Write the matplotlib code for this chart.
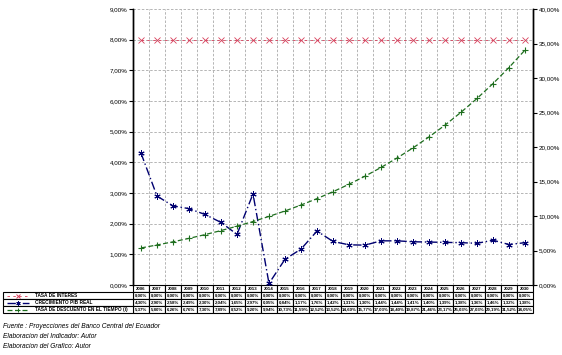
import matplotlib
matplotlib.use("Agg")
import matplotlib.pyplot as plt
from matplotlib.ticker import FuncFormatter, MultipleLocator

plt.rcParams["font.family"] = ["Liberation Sans", "DejaVu Sans"]

anios = [str(a) for a in range(2006, 2031)]
tasa_interes = [8.00] * 25
crecimiento_pib = [4.30, 2.90, 2.58, 2.49, 2.30, 2.04, 1.65, 2.97, 0.05, 0.84,
                   1.17, 1.76, 1.42, 1.31, 1.30, 1.44, 1.44, 1.41, 1.40, 1.39,
                   1.38, 1.36, 1.46, 1.32, 1.38]
tasa_descuento = [5.37, 5.80, 6.26, 6.76, 7.30, 7.89, 8.52, 9.20, 9.94, 10.73,
                  11.59, 12.52, 13.52, 14.60, 15.77, 17.03, 18.40, 19.87, 21.46, 23.17,
                  25.03, 27.03, 29.19, 31.52, 34.05]
nombres = ["TASA DE INTERES", "CRECIMIENTO PIB REAL", "TASA DE DESCUENTO EN EL TIEMPO (i)"]
notas = ["Fuente : Proyecciones del Banco Central del Ecuador",
         "Elaboracion del Indicador: Autor",
         "Elaboracion del Grafico: Autor"]

rojo = "#d8405c"
azul = "#000070"
verde = "#1e6e1e"

def pct(v, pos=None):
    return ("%.2f%%" % v).replace(".", ",")

fig = plt.figure(figsize=(5.62, 3.55), dpi=100)
ax = fig.add_axes([133 / 562, 1 - 285 / 355, 400 / 562, 276 / 355])
ax2 = ax.twinx()

x = range(len(anios))
estilos = [
    dict(color=rojo, ls=(0, (3, 4)), lw=0.6, marker="x", ms=4, mew=0.6),
    dict(color=azul, ls=(0, (6, 2, 1, 2)), lw=1.0, marker=(6, 2, 0), ms=4.5, mew=0.7),
    dict(color=verde, ls=(0, (4, 2)), lw=0.9, marker="+", ms=5, mew=0.8),
]
ax.plot(x, tasa_interes, **estilos[0])
ax.plot(x, crecimiento_pib, **estilos[1])
ax2.plot(x, tasa_descuento, **estilos[2])

ax.set_xlim(-0.5, len(anios) - 0.5)
ax.set_ylim(0, 9)
ax2.set_ylim(0, 40)
ax.yaxis.set_major_locator(MultipleLocator(1))
ax2.yaxis.set_major_locator(MultipleLocator(5))
ax.yaxis.set_major_formatter(FuncFormatter(pct))
ax2.yaxis.set_major_formatter(FuncFormatter(pct))
for a in (ax, ax2):
    a.tick_params(axis="y", labelsize=4.5, length=3, width=0.8, pad=1)
    a.spines["top"].set_visible(False)
    a.spines["left"].set_linewidth(1)
    a.spines["right"].set_linewidth(1)
    a.spines["bottom"].set_visible(False)

ax.set_xticks([])
ax.set_xticks([i + 0.5 for i in range(len(anios) - 1)], minor=True)
ax.tick_params(axis="x", which="minor", length=0)
ax.grid(True, axis="y", ls=(0, (3, 2)), color="#aaaaaa", lw=0.6)
ax.grid(True, axis="x", which="minor", ls=(0, (3, 2)), color="#aaaaaa", lw=0.6)
ax.set_axisbelow(True)

# tabla de datos (anios + valores)
celdas = [[pct(v) for v in serie] for serie in (tasa_interes, crecimiento_pib, tasa_descuento)]
h_tabla = 28 / 276
h_fila = h_tabla / 4
tabla = ax.table(cellText=celdas, colLabels=anios, cellLoc="center",
                 bbox=[0, -h_tabla, 1, h_tabla])
tabla.auto_set_font_size(False)
tabla.set_fontsize(3.2)
for celda in tabla.get_celld().values():
    celda.set_linewidth(0.8)
    celda.get_text().set_fontweight("bold")
    celda.PAD = 0.02

# columna de leyenda
etq = ax.table(cellText=[[""], [""], [""]], bbox=[-130 / 400, -h_tabla, 130 / 400, 3 * h_fila])
for celda in etq.get_celld().values():
    celda.set_linewidth(0.8)

for i, (nombre, est) in enumerate(zip(nombres, estilos)):
    yy = -h_tabla + h_fila * (2.5 - i)
    linea = {k: v for k, v in est.items() if k != "marker"}
    ax.plot([-126 / 400, -104 / 400], [yy, yy], transform=ax.transAxes, clip_on=False, **linea)
    ax.plot([-115 / 400], [yy], transform=ax.transAxes, clip_on=False,
            color=est["color"], marker=est["marker"], ms=3, mew=0.7, ls="none")
    ax.text(-98 / 400, yy, nombre, transform=ax.transAxes, fontsize=3.4,
            fontweight="bold", va="center", ha="left")

for i, nota in enumerate(notas):
    fig.text(3 / 562, 1 - (327 + 9.5 * i) / 355, nota, fontsize=4.8, style="italic",
             va="center", ha="left")

fig.savefig("out.png", dpi=100)
